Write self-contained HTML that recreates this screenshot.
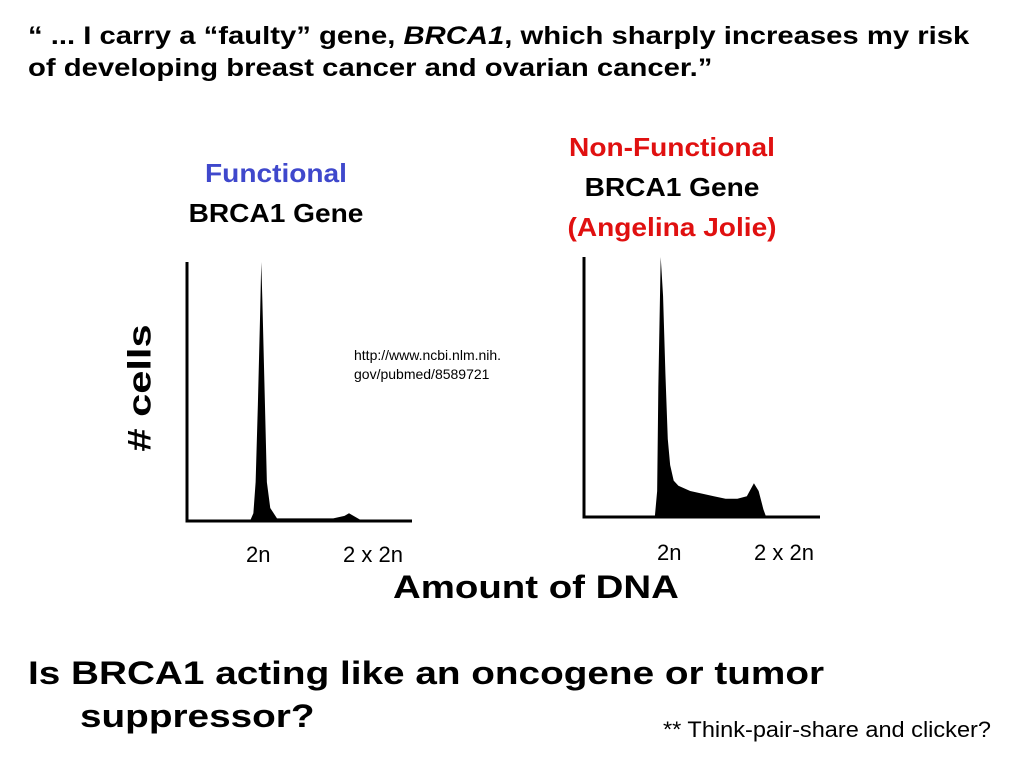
<!DOCTYPE html>
<html><head><meta charset="utf-8">
<style>
body{margin:0;width:1024px;height:768px;background:#fff;position:relative;overflow:hidden;font-family:"Liberation Sans",sans-serif}
.t{position:absolute;white-space:nowrap}
.head{left:28px;font-weight:bold;font-size:25px;color:#000;transform:scaleX(1.17);transform-origin:0 0}
.lab{font-size:26px;font-weight:bold;text-align:center;transform:translateX(-50%) scaleX(1.08);line-height:40px}
.q{font-weight:bold;font-size:32px;transform:scaleX(1.21);transform-origin:0 0}
</style></head><body>
<div class="t head" style="top:22px">“ ... I carry a “faulty” gene, <i>BRCA1</i>, which sharply increases my risk</div>
<div class="t head" style="top:54px">of developing breast cancer and ovarian cancer.”</div>
<div class="t lab" style="left:276px;top:153px"><span style="color:#3f48cc">Functional</span><br>BRCA1 Gene</div>
<div class="t lab" style="left:672px;top:127px"><span style="color:#e01010">Non-Functional</span><br>BRCA1 Gene<br><span style="color:#e01010">(Angelina Jolie)</span></div>
<div class="t" style="left:140px;top:388px;font-weight:bold;font-size:32px;transform:translate(-50%,-50%) rotate(-90deg) scaleX(1.3)"># cells</div>
<div class="t" style="left:354px;top:346px;font-size:14px;line-height:19px">http://www.ncbi.nlm.nih.<br>gov/pubmed/8589721</div>
<div class="t" style="left:246px;top:542px;font-size:22px">2n</div>
<div class="t" style="left:343px;top:542px;font-size:22px">2 x 2n</div>
<div class="t" style="left:657px;top:540px;font-size:22px">2n</div>
<div class="t" style="left:754px;top:540px;font-size:22px">2 x 2n</div>
<div class="t" style="left:393px;top:569px;font-weight:bold;font-size:32px;transform:scaleX(1.2);transform-origin:0 0">Amount of DNA</div>
<div class="t q" style="left:28px;top:655px">Is BRCA1 acting like an oncogene or tumor</div>
<div class="t q" style="left:80px;top:698px">suppressor?</div>
<div class="t" style="left:663px;top:717px;font-size:22px;transform:scaleX(1.07);transform-origin:0 0">** Think-pair-share and clicker?</div>
<svg id="s" width="1024" height="768" style="position:absolute;left:0;top:0"></svg>
<script>
const leftX=[0,28,29.5,30.5,31.5,32.5,33,33.5,34.5,35.5,37,40,55,65,70,72,74,77,100];
const leftY=[0,0,3,15,45,80,100,85,50,15,5,1,1,1,2,3,2,0.5,0];
const rightX=[0,30,31,31.5,32.5,33.5,34.5,35.5,36.5,38,40,45,50,55,60,65,69,72,74,76,77,100];
const rightY=[0,0,10,50,100,85,55,30,20,14,12,10,9,8,7,7,8,13,10,3,0.5,0];
const NS='http://www.w3.org/2000/svg';
const svg=document.getElementById('s');
function chart(name,x0,x1,base,h,xs,ys){
  const sx=v=>x0+(x1-x0)*v/100, sy=v=>base-h*v/100;
  let d='M'+sx(xs[0])+','+base;
  xs.forEach((v,i)=>{d+=' L'+sx(v)+','+sy(ys[i]);});
  d+=' L'+sx(xs[xs.length-1])+','+base+' Z';
  const p=document.createElementNS(NS,'path');
  p.setAttribute('d',d);p.setAttribute('fill','#000');
  
  
  svg.appendChild(p);
  const ax=document.createElementNS(NS,'path');
  ax.setAttribute('d','M'+x0+','+(base-h)+' L'+x0+','+base+' L'+x1+','+base);
  ax.setAttribute('stroke','#000');ax.setAttribute('stroke-width','3');ax.setAttribute('fill','none');
  
  
  svg.appendChild(ax);
}
chart('functional',187,412,521,259,leftX,leftY);
chart('non-functional',584,820,517,260,rightX,rightY);
</script>
</body></html>
